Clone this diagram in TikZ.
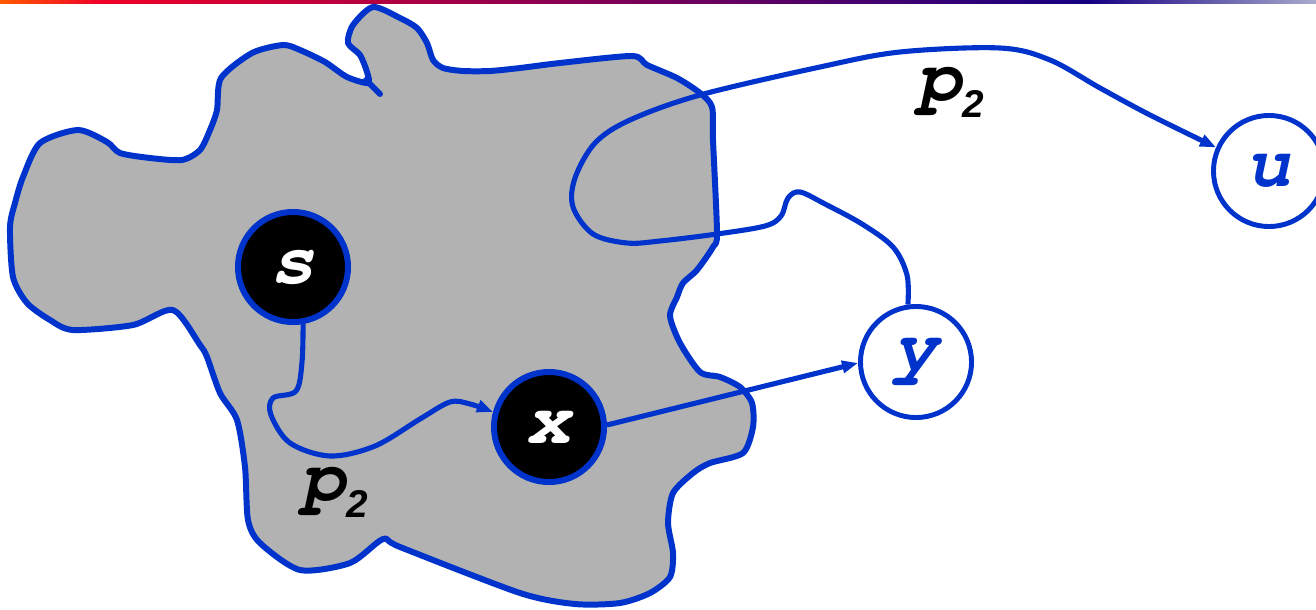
\documentclass[tikz,border=0pt]{standalone}
\usepackage{fontspec}
\newfontfamily\codefont{texgyrecursor}[Extension=.otf, UprightFont=*-regular, BoldFont=*-bold, ItalicFont=*-italic, BoldItalicFont=*-bolditalic]
\newfontfamily\subfont{Liberation Sans}
\usetikzlibrary{arrows.meta}

\definecolor{lineBlue}{RGB}{0,51,204}
\definecolor{blobGray}{RGB}{178,178,178}
\definecolor{barOrange}{RGB}{255,90,0}
\definecolor{barRed}{RGB}{240,0,40}
\definecolor{barNavy}{RGB}{20,0,130}
\definecolor{barPale}{RGB}{170,170,205}

% path label: courier p with a lowered sans 2
\newcommand{\pLabel}{{\codefont\bfseries\itshape p}{\subfont\fontsize{11}{11}\selectfont\raisebox{-5pt}{2}}}

\begin{document}
\begin{tikzpicture}[
  x=0.01cm, y=-0.01cm,
  blackNode/.style  ={circle, draw=lineBlue, line width=1.7pt, fill=black, minimum size=1.10cm, inner sep=0pt, text=white, font=\codefont\bfseries\itshape\fontsize{21}{21}\selectfont},
  whiteNode/.style  ={circle, draw=lineBlue, line width=1.4pt, fill=white, minimum size=1.11cm, inner sep=0pt, text=lineBlue, font=\codefont\bfseries\itshape\fontsize{21}{21}\selectfont},
  blobLine/.style   ={draw=lineBlue, line width=1.7pt, fill=blobGray, line join=round},
  arrow/.style      ={-{Triangle[length=0.16cm, width=0.12cm]}, draw=lineBlue, line width=1.45pt},
  pathLabel/.style  ={anchor=base west, inner sep=0pt, font=\codefont\bfseries\itshape\fontsize{21}{21}\selectfont}
]

\useasboundingbox (0,0) rectangle (1316,609);
\clip (0,0) rectangle (1316,609);

% ================== TOP BAR ==================
\shade[left color=barOrange, right color=barRed] (0,0) rectangle (100,3);
\shade[left color=barRed, right color=barNavy] (100,0) rectangle (1090,3);
\shade[left color=barNavy, right color=barPale] (1090,0) rectangle (1316,3);

% ================== EXPLORED REGION ==================
\draw[blobLine] plot[smooth cycle, tension=0.45] coordinates {
  (40,143) (78,130) (107,142) (120,153) (150,158) (182,160) (200,150) (210,130)
  (217,110) (221,78) (252,53) (283,45) (300,50) (325,62) (347,77) (368,83)
  (367,72) (360,55) (348,43) (353,25) (373,7) (400,18) (417,28) (427,43)
  (433,60) (443,68) (463,71) (490,71) (520,68) (560,63) (632,56) (647,65)
  (677,78) (700,93) (712,107) (713,140) (717,233) (713,247) (697,270) (683,283)
  (677,297) (670,316) (680,343) (700,372) (720,377) (740,387) (752,403) (753,427)
  (743,453) (710,463) (693,473) (673,493) (668,523) (673,553) (670,577) (650,593)
  (620,603) (575,604) (520,593) (400,547) (383,539) (350,563) (300,570) (260,543)
  (248,520) (245,467) (237,420) (220,393) (207,357) (200,345) (173,310) (133,325)
  (73,330) (50,320) (27,303) (13,277) (10,227) (15,203) (23,177)};
\draw[blobLine, fill=none, line cap=round] (366,80) -- (380,94);

% ================== NODES ==================
\node[blackNode] (s) at (293,267) {s};
\node[blackNode] (x) at (549,427) {x};
\node[whiteNode] (y) at (916,362) {y};
\node[whiteNode] (u) at (1269,171) {u};

% ================== PATHS ==================
\draw[arrow] plot[smooth, tension=0.55] coordinates {(s.280) (302,362) (296,391) (273,398)
  (271,415) (290,443) (330,456) (375,446) (420,419) (450,402) (470,404) (x.165)};
\draw[arrow] (x.2) -- (y.181);
\draw[arrow] plot[smooth, tension=0.55] coordinates {(y.98) (907,275) (893,247) (862,224)
  (825,204) (800,192) (788,198) (781,216) (765,226) (717,234) (660,241) (627,243)
  (593,234) (573,207) (575,178) (595,143) (630,120) (700,95) (820,67) (900,52)
  (1000,48) (1050,60) (1100,88) (1150,115) (u.156)};

% ================== LABELS ==================
\node[pathLabel] (pLow) at (301,500) {\pLabel};
\node[pathLabel] (pHigh) at (917,100) {\pLabel};

\end{tikzpicture}
\end{document}
